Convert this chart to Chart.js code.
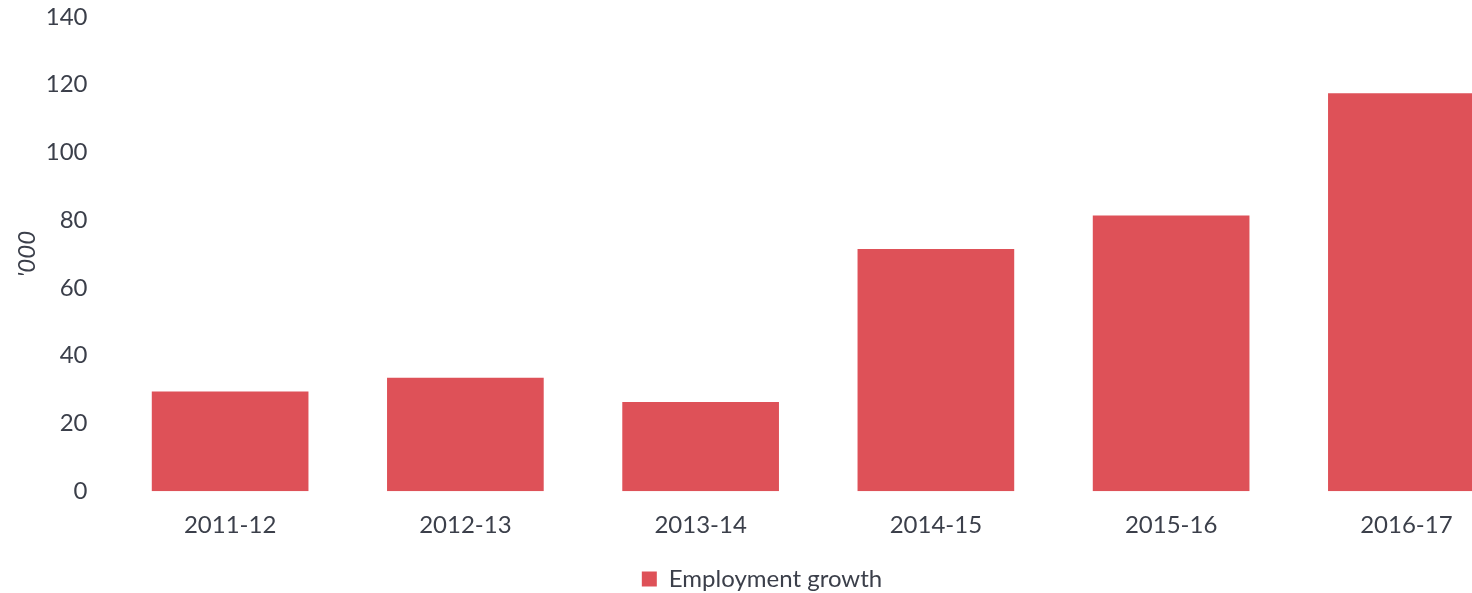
<!DOCTYPE html>
<html>
<head>
<meta charset="utf-8">
<script src="https://cdn.jsdelivr.net/npm/chart.js@4.4.1/dist/chart.umd.min.js"></script>
<style>
  html, body { margin: 0; padding: 0; background: #fff; overflow: hidden; }
  #wrap { width: 1536px; height: 593px; position: relative; }
</style>
</head>
<body>
<div id="wrap"><canvas id="employmentChart"></canvas></div>
<script>
const years = ['2011-12', '2012-13', '2013-14', '2014-15', '2015-16', '2016-17']
const employmentGrowth = [29.4, 33.5, 26.3, 71.5, 81.4, 117.5]
const yTicks = [0, 20, 40, 60, 80, 100, 120, 140]

const textColour = '#3b3f4a'
const barColour = '#de5158'

Chart.defaults.font.family = 'Lato, "Open Sans", sans-serif'
Chart.defaults.font.size = 24
Chart.defaults.color = textColour

function drawEmploymentChart() {
    const canvas = document.getElementById('employmentChart')
    new Chart(canvas, {
        type: 'bar',
        data: {
            labels: years,
            datasets: [{
                label: 'Employment growth',
                data: employmentGrowth,
                backgroundColor: barColour,
                borderWidth: 0,
                categoryPercentage: 1,
                barPercentage: 0.666
            }]
        },
        options: {
            responsive: true,
            maintainAspectRatio: false,
            animation: false,
            layout: { padding: { top: 17, right: 12, bottom: -8, left: 0 } },
            plugins: {
                tooltip: { enabled: false },
                legend: {
                    position: 'bottom',
                    labels: {
                        boxWidth: 15,
                        boxHeight: 15,
                        padding: 12,
                        font: { size: 24 }
                    }
                }
            },
            scales: {
                x: {
                    grid: { display: false, drawTicks: false },
                    border: { display: false },
                    ticks: { padding: 20, maxRotation: 0 },
                    afterFit: function(scale) {
                        scale.height -= 5
                    }
                },
                y: {
                    min: 0,
                    max: 140,
                    afterBuildTicks: function(scale) {
                        scale.ticks = yTicks.map(v => ({ value: v }))
                    },
                    afterFit: function(scale) {
                        scale.width = 112.5
                        scale.paddingTop = 0
                        scale.paddingBottom = 0
                    },
                    grid: { display: false, drawTicks: false },
                    border: { display: false },
                    ticks: { padding: 25 },
                    title: {
                        display: true,
                        text: "'000",
                        font: { size: 24, style: 'italic' },
                        padding: { top: 13, bottom: 0 }
                    }
                }
            }
        }
    })
}

drawEmploymentChart()
</script>
</body>
</html>
